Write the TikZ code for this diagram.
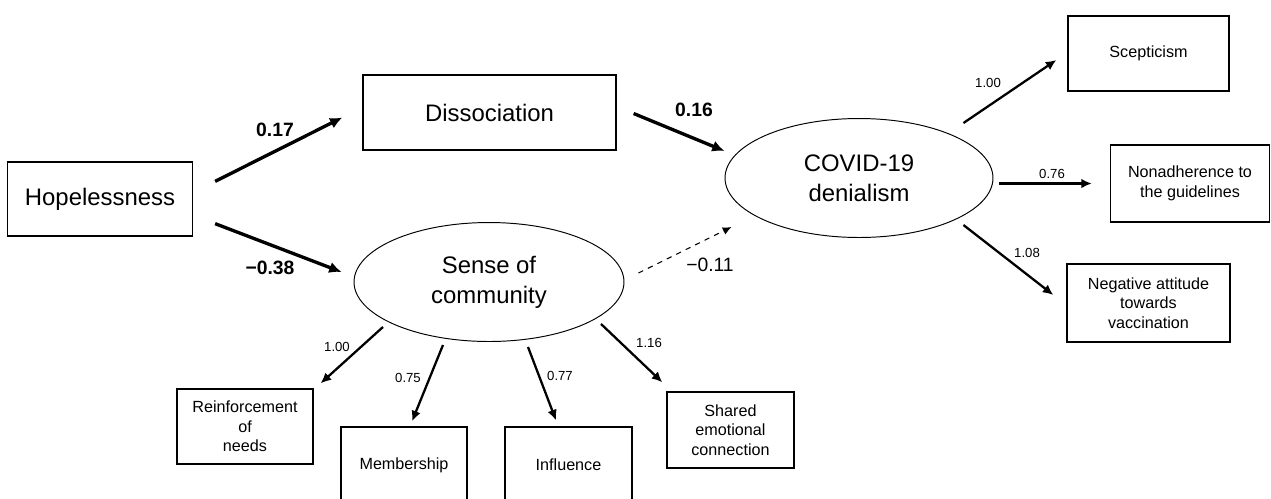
\documentclass[tikz,border=0pt]{standalone}
\usepackage{fontspec}
\setmainfont{Liberation Sans}
\usetikzlibrary{arrows.meta,shapes.geometric}

\tikzset{
  bigbox/.style={draw, line width=0.75pt, font=\fontsize{13.6}{17}\selectfont, inner sep=0pt, align=center},
  smallbox/.style={draw, line width=0.75pt, font=\fontsize{9.2}{11.2}\selectfont, inner sep=0pt, align=center, minimum height=1.5cm},
  latent/.style={ellipse, draw, line width=0.55pt, font=\fontsize{13.6}{17}\selectfont, inner sep=0pt, align=center, minimum width=5.4cm, minimum height=2.38cm},
  bigarrow/.style={line width=1.9pt, -{Latex[length=7pt,width=6.5pt]}},
  loadarrow/.style={line width=1.3pt, -{Latex[length=6pt,width=5.5pt]}},
  dasharrow/.style={dashed, line width=0.6pt, -{Latex[length=5pt,width=4.5pt]}},
  boldlab/.style={font=\fontsize{11}{13}\selectfont\bfseries, inner sep=0pt},
  lab/.style={font=\fontsize{11}{13}\selectfont, inner sep=0pt},
  smalllab/.style={font=\fontsize{7.5}{9}\selectfont, inner sep=0pt}
}

\begin{document}
\begin{tikzpicture}[x=0.02cm, y=-0.02cm]

    \clip (0,0) rectangle (1271,498);

    \node[bigbox, minimum width=3.7cm, minimum height=1.48cm] (hope) at (100,199) {Hopelessness};
    \node[bigbox, minimum width=5.06cm, minimum height=1.5cm] (dis) at (489.5,112.5) {Dissociation};

    \node[latent, minimum width=5.36cm] (cov) at (859,178) {COVID-19\\denialism};
    \node[latent] (soc) at (489,282) {Sense of\\community};

    \node[smallbox, minimum width=3.22cm] (scep) at (1148.5,53.5) {Scepticism};
    \node[smallbox, minimum width=3.18cm, minimum height=1.54cm] (nonadh) at (1190,183.5) {Nonadherence to\\the guidelines};
    \node[smallbox, minimum width=3.26cm, minimum height=1.56cm] (negatt) at (1148.5,303) {Negative attitude\\towards\\vaccination};

    \node[smallbox, minimum width=2.72cm] (reinf) at (245,426.5) {Reinforcement\\of\\needs};
    \node[smallbox, minimum width=2.52cm, minimum height=1.52cm] (memb) at (404,465) {Membership};
    \node[smallbox, minimum width=2.54cm, minimum height=1.52cm] (infl) at (568.5,465) {Influence};
    \node[smallbox, minimum width=2.54cm, minimum height=1.52cm] (shared) at (730.5,430) {Shared\\emotional\\connection};


    \draw[bigarrow] ([shift={(22,20)}]hope.north east) -- ([shift={(-20,5)}]dis.west);
    \draw[bigarrow] ([shift={(22,-13)}]hope.south east) -- ([shift={(-12,-10)}]soc.west);
    \draw[bigarrow] ([shift={(17,1)}]dis.east) -- ([shift={(0,-27)}]cov.west);
    \draw[dasharrow] ([shift={(14,-9)}]soc.east) -- ([shift={(7,49)}]cov.west);

    \draw[loadarrow] ([shift={(-30,-55)}]cov.east) -- ([shift={(-11,6.5)}]scep.west);
    \draw[loadarrow] ([shift={(6,5.5)}]cov.east) -- ([shift={(-18,0)}]nonadh.west);
    \draw[loadarrow] ([shift={(-30,47)}]cov.east) -- ([shift={(-13,-8)}]negatt.west);

    \draw[loadarrow] ([shift={(-106,-15)}]soc.south) -- ([shift={(7,-5)}]reinf.north east);
    \draw[loadarrow] ([shift={(-46,3)}]soc.south) -- ([shift={(8,-5)}]memb.north);
    \draw[loadarrow] ([shift={(39,5)}]soc.south) -- ([shift={(-12.5,-6)}]infl.north);
    \draw[loadarrow] ([shift={(112,-18)}]soc.south) -- ([shift={(-4,-9)}]shared.north west);


    \node[boldlab] (w1) at (275,130) {0.17};
    \node[boldlab] (w2) at (270,268) {−0.38};
    \node[boldlab] (w3) at (694,110) {0.16};
    \node[lab] (w4) at (710,265) {−0.11};

    \node[smalllab] (l1) at (988,83) {1.00};
    \node[smalllab] (l2) at (1052,174) {0.76};
    \node[smalllab] (l3) at (1027,253) {1.08};

    \node[smalllab] (l4) at (337,347) {1.00};
    \node[smalllab] (l5) at (408,378) {0.75};
    \node[smalllab] (l6) at (560,376) {0.77};
    \node[smalllab] (l7) at (649,343) {1.16};

\end{tikzpicture}
\end{document}
